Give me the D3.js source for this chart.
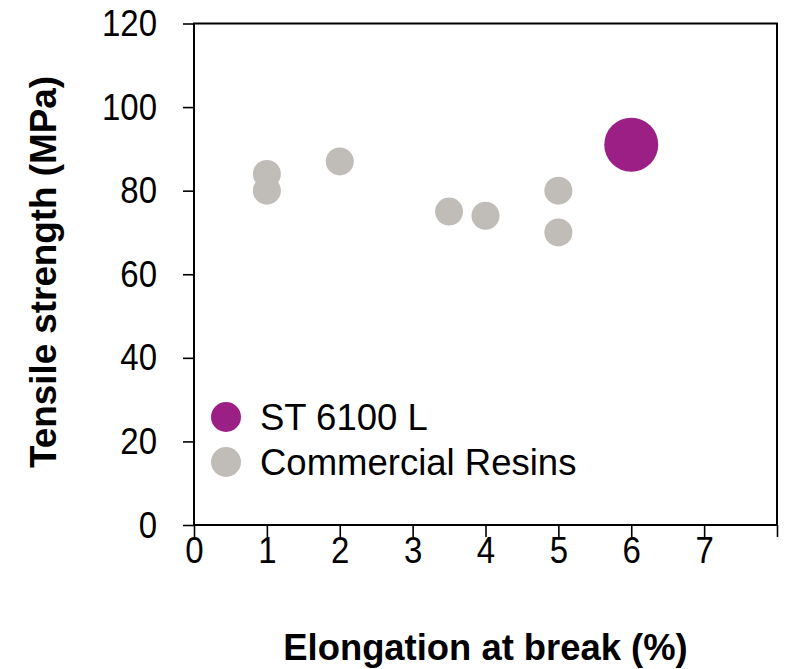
<!DOCTYPE html>
<html><head><meta charset="utf-8">
<script src="https://cdn.jsdelivr.net/npm/d3@7"></script>
<style>body{margin:0;background:#fff}text{font-family:"Liberation Sans",Arial,sans-serif}</style>
</head><body>
<svg id="c" width="787" height="669"></svg>
<script>
const stX = [6];
const stY = [91];
const comX = [1, 1, 2, 3.5, 4, 5, 5];
const comY = [84, 80, 87, 75, 74, 80, 70];
const xTicks = [0, 1, 2, 3, 4, 5, 6, 7];
const yTicks = [0, 20, 40, 60, 80, 100, 120];
const legendLabels = ["ST 6100 L", "Commercial Resins"];
const colors = ["#9B1F85", "#C0BCB7"];

const svg = d3.select("#c");
const L = 194, R = 777, T = 23.5, B = 525;
const x = d3.scaleLinear().domain([0, 8]).range([L, R]);
const y = d3.scaleLinear().domain([0, 120]).range([B, T]);

// frame
svg.append("rect").attr("x", L).attr("y", T).attr("width", R - L).attr("height", B - T)
  .attr("fill", "none").attr("stroke", "#000").attr("stroke-width", 2);

// x axis
const xa = svg.append("g").attr("transform", `translate(0,${B})`)
  .call(d3.axisBottom(x).tickValues(d3.range(0, 9)).tickSize(12).tickFormat(d => xTicks.includes(d) ? d : ""));
xa.select(".domain").remove();
xa.selectAll(".tick line").attr("stroke", "#000").attr("stroke-width", 1.6);
xa.selectAll(".tick text").attr("font-size", 33).attr("fill", "#000").attr("dy", 0).attr("y", 0)
  .attr("transform", "translate(0,38) scale(1,1.1)").style("font-family", '"Liberation Sans",Arial,sans-serif');

// y axis
const ya = svg.append("g").attr("transform", `translate(${L},0)`)
  .call(d3.axisLeft(y).tickValues(yTicks).tickSize(11));
ya.select(".domain").remove();
ya.selectAll(".tick line").attr("stroke", "#000").attr("stroke-width", 1.6);
ya.selectAll(".tick text").attr("font-size", 33).attr("fill", "#000").attr("x", 0).attr("dy", 0)
  .attr("transform", "translate(-37,12) scale(1,1.1)").style("font-family", '"Liberation Sans",Arial,sans-serif');

// points
svg.append("g").selectAll("circle").data(comX.map((v, i) => [v, comY[i]])).join("circle")
  .attr("cx", d => x(d[0])).attr("cy", d => y(d[1])).attr("r", 14).attr("fill", colors[1]);
svg.append("g").selectAll("circle").data(stX.map((v, i) => [v, stY[i]])).join("circle")
  .attr("cx", d => x(d[0])).attr("cy", d => y(d[1])).attr("r", 27).attr("fill", colors[0]);

// legend
const lg = svg.append("g");
legendLabels.forEach((t, i) => {
  const cy = 417 + i * 45;
  lg.append("circle").attr("cx", 226).attr("cy", cy).attr("r", 15).attr("fill", colors[i]);
  lg.append("text").attr("x", 260).attr("y", cy + 13).attr("font-size", 36.5).attr("fill", "#000").text(t);
});

// titles
svg.append("text").attr("x", 485.5).attr("y", 660).attr("text-anchor", "middle")
  .attr("font-size", 36.4).attr("font-weight", "bold").attr("fill", "#000").text("Elongation at break (%)");
svg.append("text").attr("transform", "translate(56,272) rotate(-90)").attr("text-anchor", "middle")
  .attr("font-size", 36.8).attr("font-weight", "bold").attr("fill", "#000").text("Tensile strength (MPa)");
</script>
</body></html>
